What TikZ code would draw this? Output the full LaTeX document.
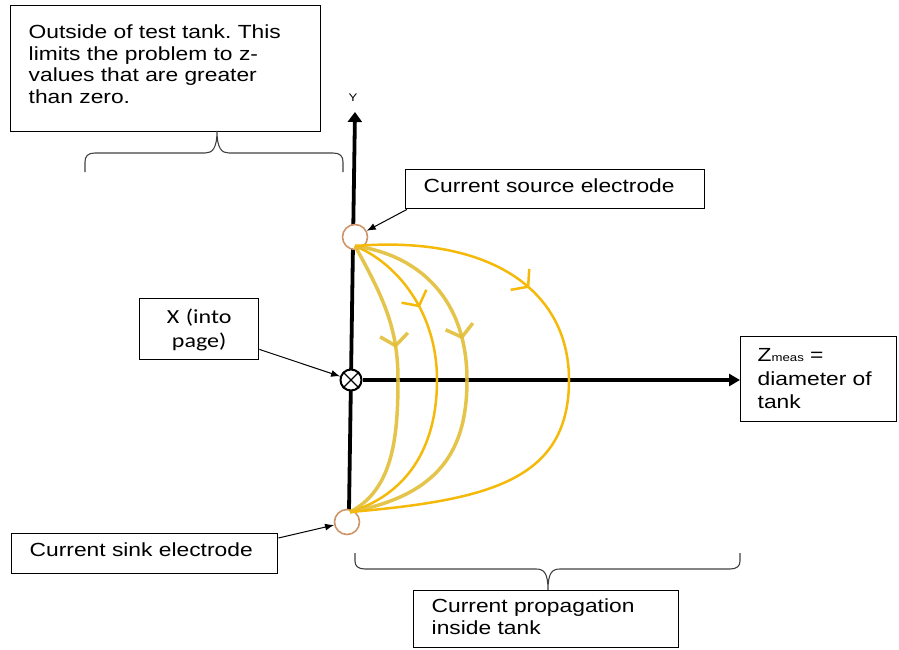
\documentclass[tikz,border=0pt]{standalone}
\usepackage{fontspec}
\setmainfont[FakeStretch=1.2]{Liberation Sans}
\newfontfamily\calfont[FakeStretch=1.2]{Carlito}
\usetikzlibrary{arrows.meta,decorations.markings,calc}
\definecolor{gold}{RGB}{245,185,10}
\definecolor{olivey}{RGB}{226,190,55}
\definecolor{elecc}{RGB}{205,148,105}
\frenchspacing
\begin{document}
\begin{tikzpicture}[x=1pt,y=-1pt,
 box/.style={draw=black, line width=1.4pt, inner ysep=0pt, align=left, anchor=north west, font=\fontsize{19}{21.5}\selectfont},
 conn/.style={line width=1pt, -{Latex[length=9pt,width=7pt]}},
 brace/.style={draw=black!75, line width=1.1pt},
 axisline/.style={line width=3.8pt},
 electrode/.style={circle, draw=elecc, line width=1.6pt, fill=white, minimum size=25pt, inner sep=0pt},
 flow/.style={postaction={decorate}, decoration={markings, mark=at position #1 with {\arrow{Straight Barb[length=11pt,width=28pt]}}}},
 ]
\useasboundingbox (0,0) rectangle (899,649);

% vertical axis
\coordinate (ybot) at (349,510);
\coordinate (ytop) at (355,112);
\draw[axisline, -{Triangle[length=10pt,width=14pt]}] (ybot) -- (ytop);
\node[font=\fontsize{11}{11}\selectfont] (ylab) at (353,98) {Y};

% origin and electrodes
\node[circle, draw=black, line width=2pt, fill=white, minimum size=21pt, inner sep=0pt] (xc) at (351,380) {};
\node[electrode] (srcE) at (355,237) {};
\node[electrode] (sinkE) at (347,522) {};

% horizontal axis
\coordinate (zend) at (740,380);
\draw[axisline, -{Triangle[length=11pt,width=12pt]}] (xc.east) -- (zend);
\draw[line width=1.2pt] (xc.north west) -- (xc.south east) (xc.north east) -- (xc.south west);

% current lines
\coordinate (s0) at (355,246);
\coordinate (e0) at (350,512);
\draw[olivey, line width=3.5pt, draw opacity=0.9, flow=0.38] (s0) .. controls (385,300) and (398,330) .. (398,380) .. controls (398,440) and (392,490) .. (e0);
\draw[gold, line width=2.5pt, flow=0.27] (s0) .. controls (395,262) and (437,310) .. (437,380) .. controls (437,450) and (405,495) .. (e0);
\draw[olivey, line width=3.5pt, draw opacity=0.9, flow=0.39] (s0) .. controls (420,255) and (467,300) .. (467,380) .. controls (467,450) and (440,495) .. (e0);
\draw[gold, line width=2.5pt, flow=0.32] (s0) .. controls (490,235) and (569,290) .. (569,380) .. controls (569,480) and (490,500) .. (e0);

% boxes
\node[box, inner xsep=18pt, text width=274pt, text height=33pt, text depth=93pt] (topbox) at (10,5)
 {Outside of test tank. This\\limits the problem to z-\\values that are greater\\than zero.};
\node[box, inner xsep=18pt, text width=263pt, text height=23pt, text depth=16pt] (srcbox) at (405,169)
 {Current source electrode};
\node[box, align=center, inner xsep=5pt, text width=109pt, text height=25pt, text depth=36pt, font=\calfont\fontsize{20}{24}\selectfont] (xbox) at (139,298)
 {X (into\\page)};
\node[box, inner xsep=17pt, text width=122pt, text height=25pt, text depth=60pt, font=\fontsize{19}{23.5}\selectfont] (zbox) at (740,336)
 {Z{\fontsize{11}{11}\selectfont meas} =\\diameter of\\tank};
\node[box, inner xsep=18pt, text width=230pt, text height=23pt, text depth=17pt] (sinkbox) at (11,533)
 {Current sink electrode};
\node[box, inner xsep=18pt, text width=229pt, text height=22pt, text depth=35pt] (propbox) at (413,590)
 {Current propagation\\inside tank};

% connectors
\draw[conn] ([xshift=2pt]srcbox.south west) -- (srcE);
\draw[conn] ($(xbox.south east)+(0,-11)$) -- (xc);
\draw[conn] ($(sinkbox.north east)+(0,5)$) -- (sinkE);

% braces
\draw[brace] (85,172) -- (85,162) .. controls (85,156) and (88,153) .. (95,153) -- (205,153)
  .. controls (212,153) and (217,149) .. (217,131)
  .. controls (217,149) and (222,153) .. (229,153) -- (333,153)
  .. controls (340,153) and (343,156) .. (343,162) -- (343,172);
\draw[brace] (355,553) -- (355,561) .. controls (355,566) and (358,569) .. (365,569) -- (536,569)
  .. controls (544,569) and (548,573) .. (548,590)
  .. controls (548,573) and (552,569) .. (560,569) -- (730,569)
  .. controls (737,569) and (740,566) .. (740,561) -- (740,553);
\end{tikzpicture}
\end{document}
